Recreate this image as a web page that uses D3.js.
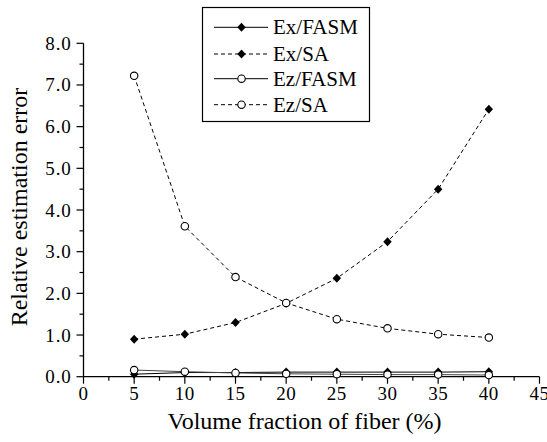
<!DOCTYPE html>
<html><head><meta charset="utf-8">
<script src="https://cdn.jsdelivr.net/npm/d3@7"></script>
<style>body{margin:0;background:#fff}svg{display:block}text{font-family:"Liberation Serif","Times New Roman",serif;fill:#000}</style>
</head><body><svg id="c" width="547" height="442"></svg>
<script>
const xValues = [5, 10, 15, 20, 25, 30, 35, 40];
const exFASM = [0.06, 0.10, 0.10, 0.11, 0.11, 0.11, 0.11, 0.12];
const exSA = [0.90, 1.02, 1.30, 1.76, 2.36, 3.24, 4.50, 6.42];
const ezFASM = [0.16, 0.12, 0.09, 0.07, 0.06, 0.05, 0.05, 0.04];
const ezSA = [7.22, 3.61, 2.39, 1.77, 1.38, 1.16, 1.02, 0.94];
const seriesNames = ["Ex/FASM", "Ex/SA", "Ez/FASM", "Ez/SA"];
const xTicks = [0, 5, 10, 15, 20, 25, 30, 35, 40, 45];
const yTicks = [0, 1, 2, 3, 4, 5, 6, 7, 8];
const xTitle = "Volume fraction of fiber (%)";
const yTitle = "Relative estimation error";

const svg = d3.select("#c");
const x = d3.scaleLinear().domain([0, 45]).range([83.5, 539.5]);
const y = d3.scaleLinear().domain([0, 8]).range([376.7, 43.3]);

const series = [
  {name: seriesNames[0], vals: exFASM, marker: "diamond", dash: null, color: "#000"},
  {name: seriesNames[1], vals: exSA, marker: "diamond", dash: "4,3", color: "#000"},
  {name: seriesNames[2], vals: ezFASM, marker: "circle", dash: null, color: "#444"},
  {name: seriesNames[3], vals: ezSA, marker: "circle", dash: "4,3", color: "#000"}
];

// axes
const xMinor = d3.range(2.5, 45, 5);
const yMinor = d3.range(0.5, 8, 1);
const gx = svg.append("g").attr("transform", `translate(0,${y(0)})`);
gx.append("line").attr("x1", x(0)).attr("x2", x(45)).attr("stroke", "#000").attr("stroke-width", 1.3);
gx.selectAll(".mj").data(xTicks).join("line").attr("x1", d => x(d)).attr("x2", d => x(d)).attr("y1", 0).attr("y2", 7).attr("stroke", "#000").attr("stroke-width", 1.2);
gx.selectAll(".mn").data(xMinor).join("line").attr("x1", d => x(d)).attr("x2", d => x(d)).attr("y1", 0).attr("y2", 4).attr("stroke", "#000").attr("stroke-width", 1.2);
gx.selectAll("text").data(xTicks).join("text").attr("x", d => x(d)).attr("y", 23.5).attr("text-anchor", "middle").attr("font-size", 19).attr("letter-spacing", 0.5).text(d => d);

const gy = svg.append("g").attr("transform", `translate(${x(0)},0)`);
gy.append("line").attr("y1", y(0)).attr("y2", y(8)).attr("stroke", "#000").attr("stroke-width", 1.3);
gy.selectAll(".mj").data(yTicks).join("line").attr("y1", d => y(d)).attr("y2", d => y(d)).attr("x1", 0).attr("x2", -7).attr("stroke", "#000").attr("stroke-width", 1.2);
gy.selectAll(".mn").data(yMinor).join("line").attr("y1", d => y(d)).attr("y2", d => y(d)).attr("x1", 0).attr("x2", -4).attr("stroke", "#000").attr("stroke-width", 1.2);
gy.selectAll("text").data(yTicks).join("text").attr("x", -12).attr("y", d => y(d) + 6.5).attr("text-anchor", "end").attr("font-size", 19).attr("letter-spacing", 0.8).text(d => d3.format(".1f")(d));

svg.append("text").attr("x", (x(0) + x(45)) / 2 - 7).attr("y", 429).attr("text-anchor", "middle").attr("font-size", 24).text(xTitle);
svg.append("text").attr("transform", `translate(27,${(y(0) + y(8)) / 2 - 3}) rotate(-90)`).attr("text-anchor", "middle").attr("font-size", 24).text(yTitle);

function drawMarker(g, type, cx, cy) {
  if (type === "diamond") {
    g.append("path").attr("d", `M${cx},${cy - 4.5}L${cx + 4.2},${cy}L${cx},${cy + 4.5}L${cx - 4.2},${cy}Z`).attr("fill", "#000");
  } else {
    g.append("circle").attr("cx", cx).attr("cy", cy).attr("r", 3.7).attr("fill", "#fff").attr("stroke", "#000").attr("stroke-width", 1.1);
  }
}

const line = d3.line().x(d => x(d[0])).y(d => y(d[1]));
const plot = svg.append("g");
series.forEach(s => {
  const pts = xValues.map((v, i) => [v, s.vals[i]]);
  plot.append("path").attr("d", line(pts)).attr("fill", "none").attr("stroke", s.color).attr("stroke-width", 1).attr("stroke-dasharray", s.dash);
});
series.forEach(s => {
  xValues.forEach((v, i) => drawMarker(plot, s.marker, x(v), y(s.vals[i])));
});

// legend
const lg = svg.append("g");
lg.append("rect").attr("x", 202.5).attr("y", 7.5).attr("width", 167).attr("height", 114).attr("fill", "#fff").attr("stroke", "#000").attr("stroke-width", 1.2);
const rowY = [27.3, 54, 78.7, 104.7];
series.forEach((s, i) => {
  lg.append("line").attr("x1", 214).attr("x2", 268).attr("y1", rowY[i]).attr("y2", rowY[i]).attr("stroke", "#000").attr("stroke-width", 1).attr("stroke-dasharray", s.dash);
  drawMarker(lg, s.marker, 241.5, rowY[i]);
  lg.append("text").attr("x", 273).attr("y", rowY[i] + 7).attr("font-size", 21).text(s.name);
});
</script></body></html>
